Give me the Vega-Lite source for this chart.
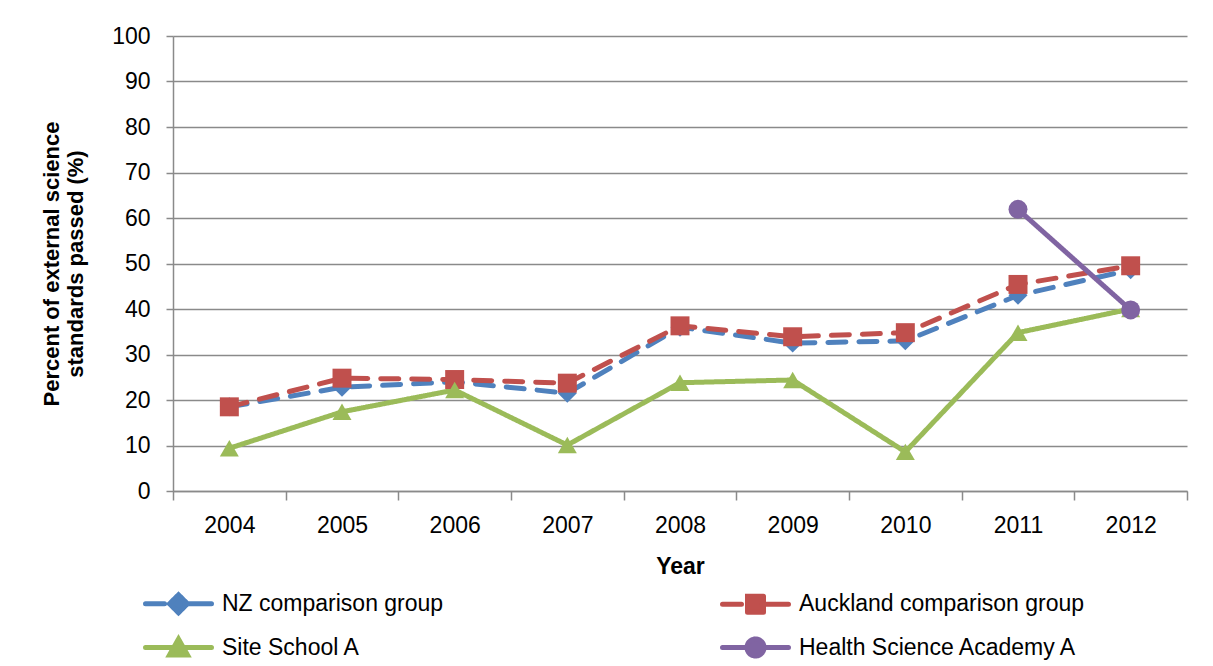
{
  "$schema": "https://vega.github.io/schema/vega-lite/v6.json",
  "autosize": {"type": "none"},
  "width": 1014,
  "height": 455,
  "padding": {"left": 173, "top": 36, "right": 26, "bottom": 175},
  "background": "white",
  "config": {
    "font": "Liberation Sans",
    "view": {"stroke": null},
    "axis": {"labelFont": "Liberation Sans", "titleFont": "Liberation Sans", "labelColor": "black", "titleColor": "black"}
  },
  "data": {
    "values": [
      {"year": "2004", "series": "NZ comparison group", "value": 18.5},
      {"year": "2005", "series": "NZ comparison group", "value": 22.8},
      {"year": "2006", "series": "NZ comparison group", "value": 24.0},
      {"year": "2007", "series": "NZ comparison group", "value": 21.5},
      {"year": "2008", "series": "NZ comparison group", "value": 36.0},
      {"year": "2009", "series": "NZ comparison group", "value": 32.5},
      {"year": "2010", "series": "NZ comparison group", "value": 33.0},
      {"year": "2011", "series": "NZ comparison group", "value": 43.0},
      {"year": "2012", "series": "NZ comparison group", "value": 48.6},
      {"year": "2004", "series": "Auckland comparison group", "value": 18.5},
      {"year": "2005", "series": "Auckland comparison group", "value": 24.8},
      {"year": "2006", "series": "Auckland comparison group", "value": 24.5},
      {"year": "2007", "series": "Auckland comparison group", "value": 23.7},
      {"year": "2008", "series": "Auckland comparison group", "value": 36.3},
      {"year": "2009", "series": "Auckland comparison group", "value": 33.9},
      {"year": "2010", "series": "Auckland comparison group", "value": 34.8},
      {"year": "2011", "series": "Auckland comparison group", "value": 45.4},
      {"year": "2012", "series": "Auckland comparison group", "value": 49.5},
      {"year": "2004", "series": "Site School A", "value": 9.4},
      {"year": "2005", "series": "Site School A", "value": 17.4},
      {"year": "2006", "series": "Site School A", "value": 22.2},
      {"year": "2007", "series": "Site School A", "value": 10.1},
      {"year": "2008", "series": "Site School A", "value": 23.8},
      {"year": "2009", "series": "Site School A", "value": 24.4},
      {"year": "2010", "series": "Site School A", "value": 8.6},
      {"year": "2011", "series": "Site School A", "value": 34.8},
      {"year": "2012", "series": "Site School A", "value": 40.0},
      {"year": "2011", "series": "Health Science Academy A", "value": 61.9},
      {"year": "2012", "series": "Health Science Academy A", "value": 39.8}
    ]
  },
  "encoding": {
    "x": {
      "field": "year", "type": "ordinal",
      "scale": {"type": "band", "paddingInner": 0, "paddingOuter": 0},
      "axis": {
        "title": "Year", "titleFontSize": 23, "titleFontWeight": "bold", "titlePadding": 18,
        "labelAngle": 0, "labelFontSize": 23, "labelPadding": 14,
        "tickBand": "extent", "tickSize": 9, "tickColor": "#8a8a8a", "tickWidth": 1.5,
        "domainColor": "#8a8a8a", "domainWidth": 1.5, "grid": false
      }
    },
    "y": {
      "field": "value", "type": "quantitative",
      "scale": {"domain": [0, 100], "nice": false, "zero": true},
      "axis": {
        "title": ["Percent of external science", "standards  passed (%)"],
        "titleFontSize": 22, "titleFontWeight": "bold", "titleLineHeight": 24, "titlePadding": 24,
        "values": [0, 10, 20, 30, 40, 50, 60, 70, 80, 90, 100],
        "labelFontSize": 23, "labelPadding": 16, "tickSize": 7, "tickColor": "#8a8a8a", "tickWidth": 1.5,
        "domainColor": "#8a8a8a", "domainWidth": 1.5,
        "grid": true, "gridColor": "#8a8a8a", "gridWidth": 1.5
      }
    },
    "color": {
      "field": "series", "type": "nominal",
      "scale": {
        "domain": ["NZ comparison group", "Auckland comparison group", "Site School A", "Health Science Academy A"],
        "range": ["#4F81BD", "#C0504D", "#9BBB59", "#8064A2"]
      },
      "legend": {
        "title": null, "orient": "none", "legendX": -7, "legendY": 555,
        "direction": "horizontal", "columns": 2, "columnPadding": 268, "rowPadding": 6,
        "padding": 0, "symbolSize": 400, "labelFontSize": 23, "labelFont": "Liberation Sans", "labelColor": "black",
        "labelOffset": 31, "labelLimit": 500, "symbolStrokeWidth": 5,
        "encode": {
          "symbols": {
            "update": {
              "shape": {"signal": "datum.value === 'NZ comparison group' ? 'M-3.3,0L-1.4,0M0.6,0L3.3,0M0,-0.9L0.9,0L0,0.9L-0.9,0Z' : datum.value === 'Auckland comparison group' ? 'M-3.3,0L-1.4,0M0.6,0L3.3,0M-0.8,-0.8L0.8,-0.8L0.8,0.8L-0.8,0.8Z' : datum.value === 'Site School A' ? 'M-3.3,0L3.3,0M0,-0.85L0.9,0.75L-0.9,0.75Z' : 'M-3.3,0L3.3,0M-0.85,0A0.85,0.85 0 1,1 0.85,0A0.85,0.85 0 1,1 -0.85,0Z'"},
              "size": {"value": 400},
              "fill": {"scale": "color", "field": "value"},
              "stroke": {"scale": "color", "field": "value"},
              "strokeWidth": {"value": 5},
              "strokeCap": {"value": "round"},
              "strokeDash": {"value": [1, 0]},
              "strokeOpacity": {"value": 1},
              "opacity": {"value": 1},
              "fillOpacity": {"value": 1}
            }
          }
        }
      }
    }
  },
  "layer": [
    {
      "mark": {"type": "line", "strokeWidth": 5, "strokeCap": "round"},
      "encoding": {
        "strokeDash": {
          "field": "series", "type": "nominal",
          "scale": {"range": [[18, 13], [1, 0], [18, 13], [1, 0]]},
          "legend": null
        }
      }
    },
    {
      "mark": {"type": "point", "filled": true, "opacity": 1, "size": 360},
      "encoding": {
        "shape": {
          "field": "series", "type": "nominal",
          "scale": {"range": ["square", "circle", "diamond", "triangle-up"]},
          "legend": null
        }
      }
    }
  ]
}
